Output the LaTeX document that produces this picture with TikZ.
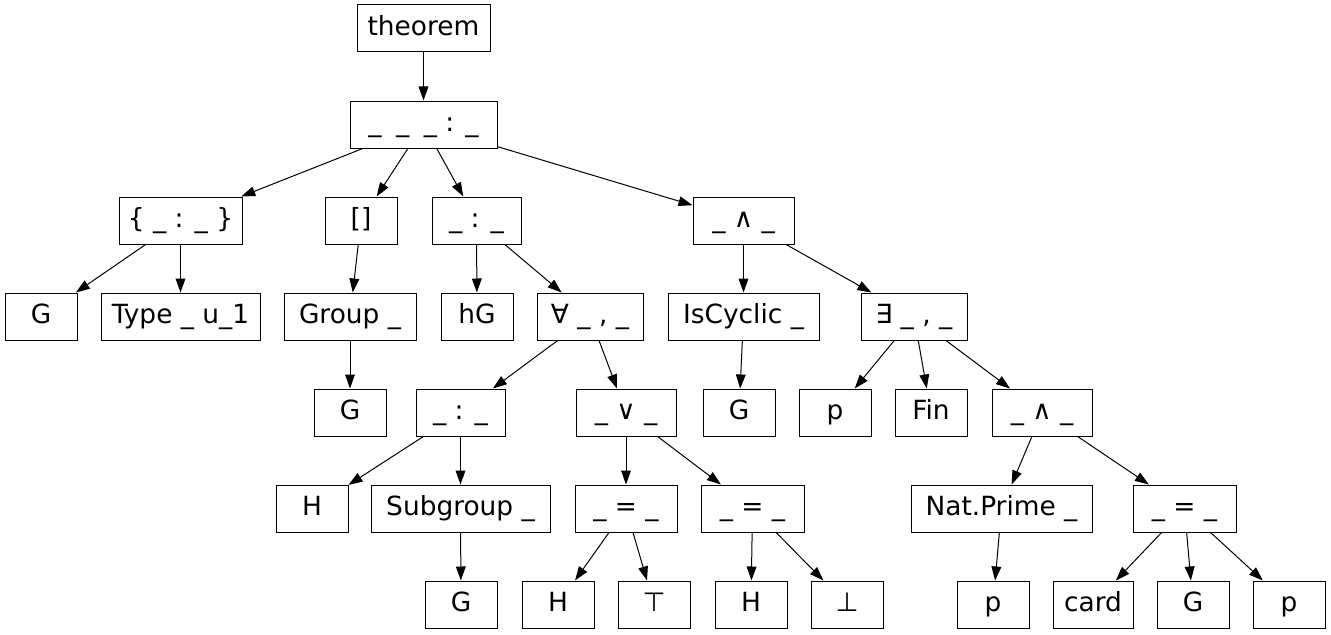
\documentclass[tikz,border=0pt]{standalone}
\usepackage{fontspec}
\setmainfont{DejaVu Sans}
\usetikzlibrary{arrows.meta}

\tikzset{
  tbox/.style={draw, line width=0.75pt, rectangle, inner sep=0pt,
    minimum width=54pt, minimum height=35.25pt,
    text height=13pt, text depth=3.2pt,
    font=\fontsize{19.8pt}{24pt}\selectfont},
  arr/.style={line width=0.75pt, -{Triangle[length=10.5pt,width=7.3pt]}}
}

\begin{document}
\begin{tikzpicture}[x=0.75pt, y=-0.75pt]
  \useasboundingbox (0,0) rectangle (1331,635);

  % level 0 and 1
  \node[tbox, minimum width=99.75pt] (thm) at (423.5,28.5) {theorem};
  \node[tbox, minimum width=110.25pt] (root) at (423.5,124.5)
    {\_\hspace{0.55em}\_\hspace{0.55em}\_ : \_};

  % level 2
  \node[tbox, minimum width=92.25pt] (set) at (180.5,220.5) {\{ \_ : \_ \}};
  \node[tbox] (brk) at (361,220.5) {[]};
  \node[tbox, minimum width=66.75pt] (colA) at (476.5,220.5) {\_ : \_};
  \node[tbox, minimum width=75.75pt] (andA) at (743.5,220.5) {\_ ∧ \_};

  % level 3
  \node[tbox] (gA) at (41,316.5) {G};
  \node[tbox, minimum width=119.25pt] (type) at (180.5,316.5) {Type \_ u\_1};
  \node[tbox, minimum width=99pt] (group) at (350,316.5) {Group \_};
  \node[tbox] (hg) at (477,316.5) {hG};
  \node[tbox, minimum width=79.5pt] (all) at (590,316.5) {∀ \_ , \_};
  \node[tbox, minimum width=113.25pt] (cyc) at (743.5,316.5) {IsCyclic \_};
  \node[tbox, minimum width=79.5pt] (ex) at (914,316.5) {∃ \_ , \_};

  % level 4
  \node[tbox] (gB) at (350,412.5) {G};
  \node[tbox, minimum width=66.75pt] (colB) at (460.5,412.5) {\_ : \_};
  \node[tbox, minimum width=75pt] (or) at (626,412.5) {\_ ∨ \_};
  \node[tbox] (gC) at (739,412.5) {G};
  \node[tbox] (pA) at (835,412.5) {p};
  \node[tbox] (fin) at (931,412.5) {Fin};
  \node[tbox, minimum width=75pt] (andB) at (1042,412.5) {\_ ∧ \_};

  % level 5
  \node[tbox] (hA) at (312,508.5) {H};
  \node[tbox, minimum width=134.25pt] (sub) at (460.5,508.5) {Subgroup \_};
  \node[tbox, minimum width=76.5pt] (eqA) at (626,508.5) {\_ = \_};
  \node[tbox, minimum width=77.25pt] (eqB) at (752.5,508.5) {\_ = \_};
  \node[tbox, minimum width=135.75pt] (prime) at (1001.5,508.5) {Nat.Prime \_};
  \node[tbox, minimum width=77.25pt] (eqC) at (1184.5,508.5) {\_ = \_};

  % level 6
  \node[tbox] (gD) at (461,604.5) {G};
  \node[tbox] (hB) at (558,604.5) {H};
  \node[tbox] (top) at (654,604.5) {⊤};
  \node[tbox] (hC) at (751,604.5) {H};
  \node[tbox] (bot) at (847,604.5) {⊥};
  \node[tbox] (pB) at (993,604.5) {p};
  \node[tbox, minimum width=60pt] (card) at (1093,604.5) {card};
  \node[tbox] (gE) at (1193,604.5) {G};
  \node[tbox] (pC) at (1289,604.5) {p};

  % edges
  \draw[arr] (thm) -- (root);
  \foreach \c in {set,brk,colA,andA} \draw[arr] (root) -- (\c);
  \foreach \c in {gA,type} \draw[arr] (set) -- (\c);
  \draw[arr] (brk) -- (group);
  \foreach \c in {hg,all} \draw[arr] (colA) -- (\c);
  \foreach \c in {cyc,ex} \draw[arr] (andA) -- (\c);
  \draw[arr] (group) -- (gB);
  \foreach \c in {colB,or} \draw[arr] (all) -- (\c);
  \draw[arr] (cyc) -- (gC);
  \foreach \c in {pA,fin,andB} \draw[arr] (ex) -- (\c);
  \foreach \c in {hA,sub} \draw[arr] (colB) -- (\c);
  \foreach \c in {eqA,eqB} \draw[arr] (or) -- (\c);
  \foreach \c in {prime,eqC} \draw[arr] (andB) -- (\c);
  \draw[arr] (sub) -- (gD);
  \foreach \c in {hB,top} \draw[arr] (eqA) -- (\c);
  \foreach \c in {hC,bot} \draw[arr] (eqB) -- (\c);
  \draw[arr] (prime) -- (pB);
  \foreach \c in {card,gE,pC} \draw[arr] (eqC) -- (\c);
\end{tikzpicture}
\end{document}
